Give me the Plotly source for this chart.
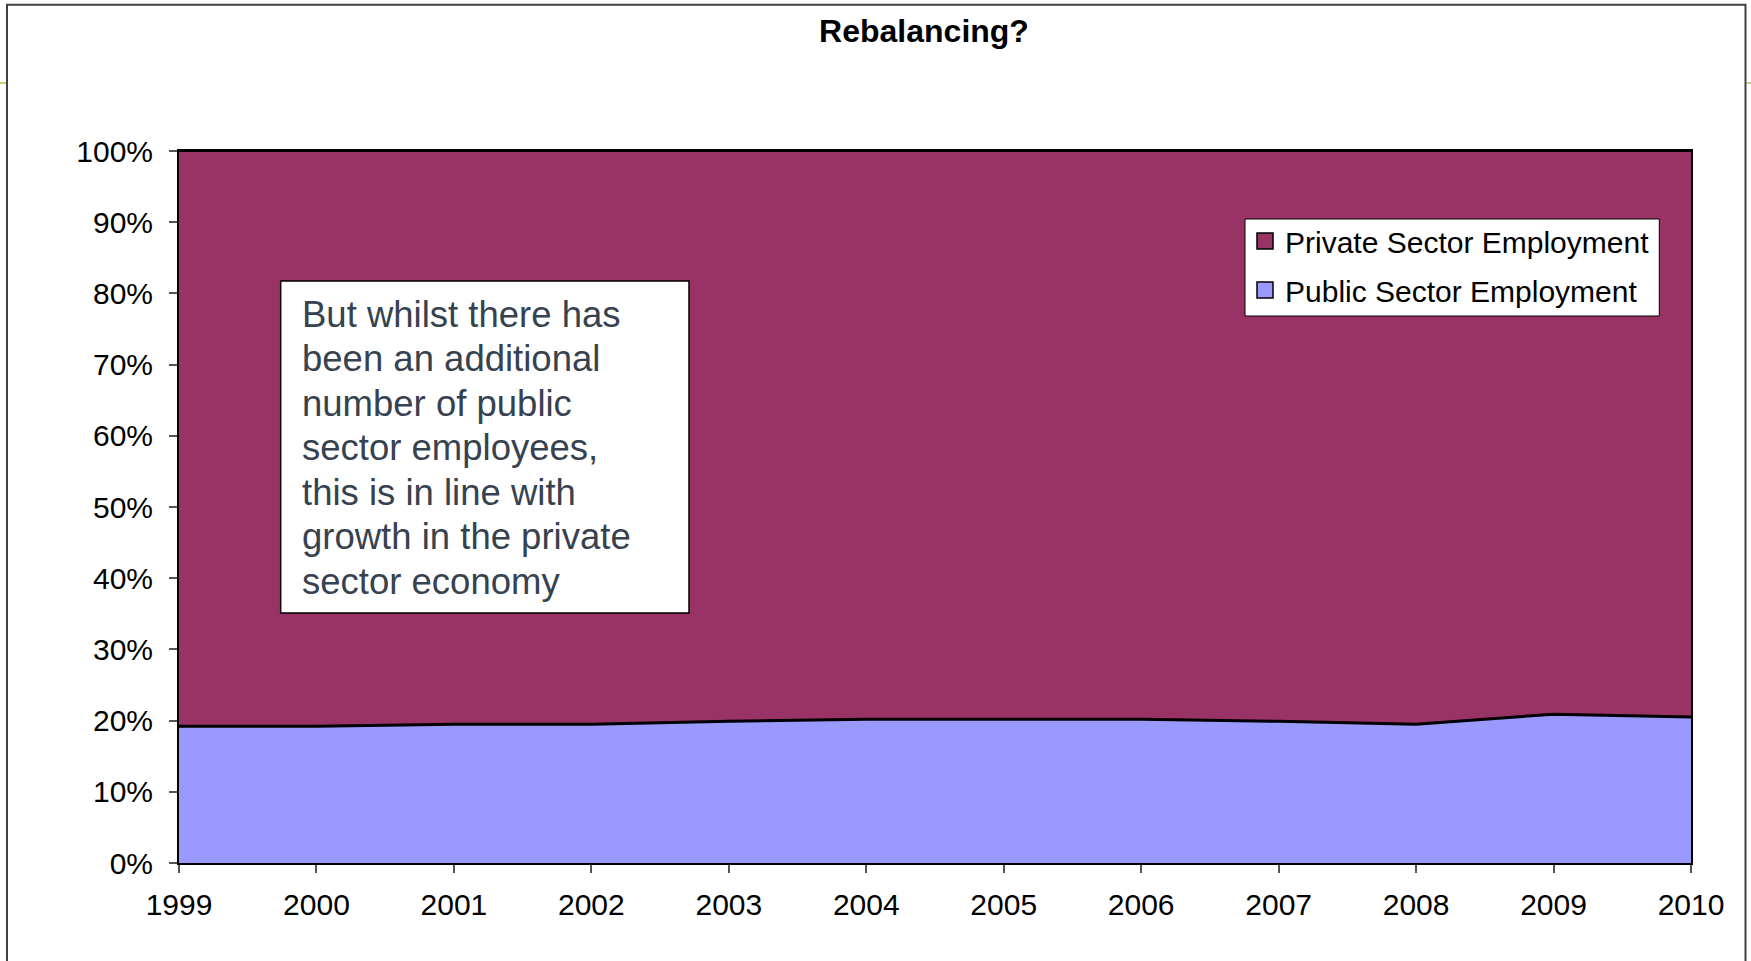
import plotly.graph_objects as go

# Share of total employment by sector (%)
years = [1999, 2000, 2001, 2002, 2003, 2004, 2005, 2006, 2007, 2008, 2009, 2010]
public_pct = [19.2, 19.2, 19.5, 19.5, 19.9, 20.2, 20.2, 20.2, 19.9, 19.5, 20.9, 20.5]
private_pct = [80.8, 80.8, 80.5, 80.5, 80.1, 79.8, 79.8, 79.8, 80.1, 80.5, 79.1, 79.5]

series_names = ["Private Sector Employment", "Public Sector Employment"]
private_color = "#993366"
public_color = "#9999FF"

y_ticks = [0, 10, 20, 30, 40, 50, 60, 70, 80, 90, 100]
y_tick_text = [f"{v}%" for v in y_ticks]

note_lines = [
    "But whilst there has",
    "been an additional",
    "number of public",
    "sector employees,",
    "this is in line with",
    "growth in the private",
    "sector economy",
]

W, H = 1751, 961
L, R, T, B = 179, 1691, 151, 863  # plot area in pixels
FONT = "Liberation Sans, Arial, sans-serif"


def px(x):
    return (x - L) / (R - L)


def py(y):
    return (B - y) / (B - T)


fig = go.Figure()

fig.add_trace(go.Scatter(
    x=years, y=public_pct, name=series_names[1], stackgroup="emp",
    mode="lines", line=dict(color="black", width=3),
    fillcolor=public_color, showlegend=False, hoverinfo="skip",
))
fig.add_trace(go.Scatter(
    x=years, y=private_pct, name=series_names[0], stackgroup="emp",
    mode="lines", line=dict(color="black", width=2),
    fillcolor=private_color, showlegend=False, hoverinfo="skip",
))

# legend entries with square swatches
for grp, (name, col) in enumerate([(series_names[0], private_color),
                                   (series_names[1], public_color)]):
    fig.add_trace(go.Scatter(
        x=[None], y=[None], mode="markers", name=name, legendgroup=f"g{grp}",
        marker=dict(symbol="square", size=16, color=col,
                    line=dict(color="black", width=1.5)),
    ))

shapes = [
    # outer chart frame
    dict(type="rect", xref="paper", yref="paper",
         x0=px(7), x1=px(1745.5), y0=py(975), y1=py(4.7),
         line=dict(color="#404040", width=2), fillcolor="rgba(0,0,0,0)", layer="below"),
    # small guide marks outside the frame
    dict(type="line", xref="paper", yref="paper",
         x0=px(0), x1=px(6), y0=py(83), y1=py(83),
         line=dict(color="#a8c84a", width=1.5)),
    dict(type="line", xref="paper", yref="paper",
         x0=px(1747), x1=px(1751), y0=py(83), y1=py(83),
         line=dict(color="#a8c84a", width=1.5)),
    # text box
    dict(type="rect", xref="paper", yref="paper",
         x0=px(280.7), x1=px(689), y0=py(613), y1=py(281),
         line=dict(color="black", width=1.5), fillcolor="white", layer="above"),
    # legend box
    dict(type="rect", xref="paper", yref="paper",
         x0=px(1245), x1=px(1659.3), y0=py(316), y1=py(219),
         line=dict(color="black", width=1), fillcolor="white", layer="above"),
]

annotations = []
for i, line in enumerate(note_lines):
    annotations.append(dict(
        text=line, xref="paper", yref="paper",
        x=px(300), y=py(314 + 44.5 * i), xanchor="left", yanchor="middle",
        showarrow=False, align="left",
        font=dict(family=FONT, size=36.5, color="#36424f"),
    ))

fig.update_layout(
    width=W, height=H,
    margin=dict(l=L, r=W - R, t=T, b=H - B),
    paper_bgcolor="white", plot_bgcolor="white",
    title=dict(text="<b>Rebalancing?</b>", x=924 / W, xanchor="center",
               y=1 - 31 / H, yanchor="middle",
               font=dict(family=FONT, size=32, color="black")),
    font=dict(family=FONT, size=30, color="black"),
    showlegend=True,
    legend=dict(x=px(1245), y=py(215), xanchor="left", yanchor="top",
                bgcolor="rgba(0,0,0,0)", borderwidth=0, traceorder="grouped",
                tracegroupgap=7,
                font=dict(family=FONT, size=30, color="black"),
                itemwidth=30),
    xaxis=dict(range=[1999, 2010], tickvals=years, ticktext=[str(y) for y in years],
               showgrid=False, zeroline=False, showline=True, mirror=True,
               linecolor="black", linewidth=2, ticks="outside", ticklen=8,
               tickcolor="#555555", tickwidth=1.5, ticklabelstandoff=6,
               tickfont=dict(family=FONT, size=30, color="black")),
    yaxis=dict(range=[0, 100], tickvals=y_ticks, ticktext=y_tick_text,
               showgrid=False, zeroline=False, showline=True, mirror=True,
               linecolor="black", linewidth=2, ticks="outside", ticklen=8,
               tickcolor="#555555", tickwidth=1.5, ticklabelstandoff=10,
               tickfont=dict(family=FONT, size=30, color="black")),
    shapes=shapes,
    annotations=annotations,
)

fig.write_html("out.html")
